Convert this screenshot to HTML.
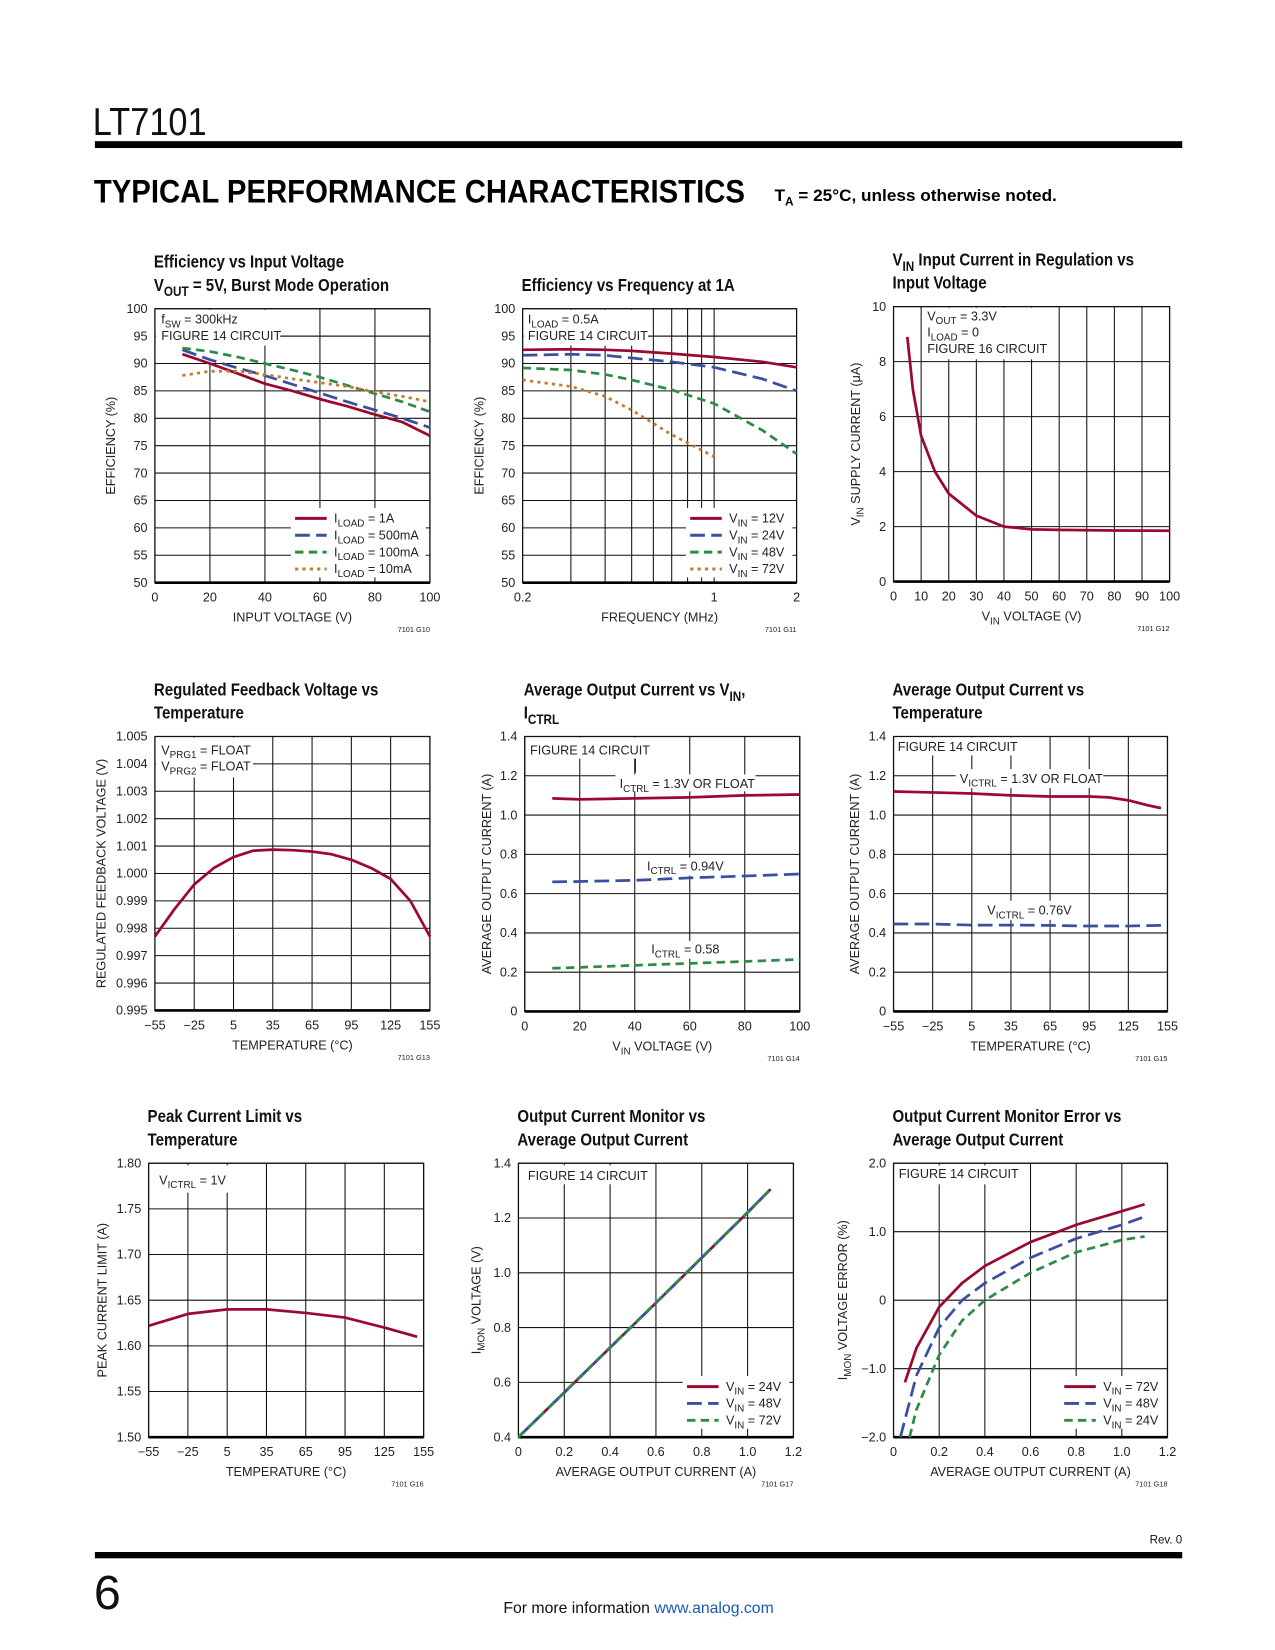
<!DOCTYPE html>
<html><head><meta charset="utf-8">
<style>
html,body{margin:0;padding:0;background:#fff;}
svg{display:block;font-family:"Liberation Sans Narrow","Liberation Sans",sans-serif;}
</style></head>
<body>
<svg id="page" width="1275" height="1650" viewBox="0 0 1210 1566" xmlns="http://www.w3.org/2000/svg">
<rect x="0" y="0" width="1210" height="1566" fill="#fff"/>
<text x="88" y="128" font-size="37" font-family="Liberation Sans, sans-serif" font-weight="300" fill="#111" textLength="108" lengthAdjust="spacingAndGlyphs">LT7101</text>
<rect x="90" y="134" width="1032" height="6.5" fill="#000"/>
<text x="89" y="192" font-size="31" font-weight="bold" font-family="Liberation Sans, sans-serif" fill="#000" textLength="618" lengthAdjust="spacingAndGlyphs">TYPICAL PERFORMANCE CHARACTERISTICS</text>
<text x="735" y="191" font-size="16" font-weight="bold" fill="#000" textLength="268" lengthAdjust="spacingAndGlyphs">T<tspan font-size="11" dy="4">A</tspan><tspan dy="-4"> = 25°C, unless otherwise noted.</tspan></text>
<g id="charts"></g>
<rect x="90" y="1473" width="1032" height="6" fill="#000"/>
<text x="1122" y="1465" font-size="11" text-anchor="end" fill="#111">Rev. 0</text>
<text x="89" y="1527" font-size="46" font-family="Liberation Sans, sans-serif" font-weight="300" fill="#111">6</text>
<text x="606" y="1531" font-size="15" text-anchor="middle" fill="#111">For more information <tspan fill="#1a5bb5">www.analog.com</tspan></text>
</svg>
<script>
const NS='http://www.w3.org/2000/svg';
const RED='#9b0a2e',BLUE='#3a4fa0',GREEN='#2e8b47',ORANGE='#c8782e';

// ---------- DATA ----------
const c1X=[10,20,30,40,50,60,70,80,90,100];
const c1_1A=[91.7,90,88.2,86.3,85,83.5,82.2,80.7,79.3,76.8];
const c1_500mA=[92.5,90.7,89.2,87.8,86.2,84.6,83,81.5,80,78.3];
const c1_100mA=[92.8,92.2,91.2,90,88.8,87.5,86,84.5,83,81.2];
const c1_10mA=[87.8,88.6,88.6,88,87.2,86.5,85.8,84.8,84,83];
const c1XTicks=[0,20,40,60,80,100];
const c1YTicks=[50,55,60,65,70,75,80,85,90,95,100];

const c2X=[0.2,0.3,0.4,0.5,0.7,1,1.5,2];
const c2_12V=[92.5,92.6,92.5,92.3,91.8,91.2,90.3,89.3];
const c2_24V=[91.5,91.7,91.5,91,90.3,89.3,87.2,85];
const c2_48V=[89.2,88.8,88,87,85.2,82.7,77.8,73.5];
const c2X72=[0.2,0.3,0.4,0.5,0.7,1];
const c2_72V=[87,85.8,84,81.5,77,73];
const c2XTicks=[0.2,1,2];
const c2XGrid=[0.3,0.4,0.5,0.6,0.7,0.8,0.9,1];

const c3X=[5,7,10,15,20,30,40,50,60,80,100];
const c3Y=[8.9,7,5.3,4,3.2,2.4,2.0,1.9,1.88,1.86,1.85];
const c3XTicks=[0,10,20,30,40,50,60,70,80,90,100];
const c3YTicks=[0,2,4,6,8,10];

const tempTicks=[-55,-25,5,35,65,95,125,155];
const c4X=[-55,-40,-25,-10,5,20,35,50,65,80,95,110,125,140,155];
const c4Y=[0.9977,0.9987,0.9996,1.0002,1.0006,1.00083,1.00087,1.00085,1.0008,1.0007,1.0005,1.0002,0.9998,0.999,0.9977];
const c4YTicks=[0.995,0.996,0.997,0.998,0.999,1.000,1.001,1.002,1.003,1.004,1.005];

const c5X=[10,20,40,60,80,100];
const c5_1p3=[1.085,1.08,1.085,1.09,1.1,1.105];
const c5_0p94=[0.66,0.662,0.668,0.68,0.69,0.70];
const c5_0p58=[0.22,0.225,0.235,0.245,0.255,0.265];
const c5XTicks=[0,20,40,60,80,100];
const ampTicks=[0,0.2,0.4,0.6,0.8,1.0,1.2,1.4];

const c6X=[-55,-25,5,35,65,95,110,125,140,150];
const c6_1p3=[1.12,1.115,1.11,1.1,1.095,1.095,1.09,1.075,1.05,1.035];
const c6_0p76=[0.445,0.445,0.44,0.44,0.438,0.435,0.435,0.435,0.437,0.438];

const c7X=[-55,-25,5,35,65,95,125,150];
const c7Y=[1.622,1.635,1.64,1.64,1.636,1.631,1.62,1.61];
const c7YTicks=[1.50,1.55,1.60,1.65,1.70,1.75,1.80];

const c8X=[0,0.2,0.4,0.6,0.8,1.0,1.1];
const c8_24V=[0.4,0.563,0.727,0.89,1.055,1.22,1.305];
const c8_48V=[0.4,0.563,0.727,0.89,1.055,1.22,1.305];
const c8_72V=[0.4,0.564,0.728,0.891,1.056,1.221,1.306];
const c8XTicks=[0,0.2,0.4,0.6,0.8,1.0,1.2];
const c8YTicks=[0.4,0.6,0.8,1.0,1.2,1.4];

const c9X72=[0.05,0.1,0.2,0.3,0.4,0.6,0.8,1.0,1.1];
const c9_72V=[-1.2,-0.7,-0.1,0.25,0.5,0.85,1.1,1.3,1.4];
const c9X48=[0.03,0.1,0.2,0.3,0.4,0.6,0.8,1.0,1.1];
const c9_48V=[-2,-1.1,-0.4,0,0.25,0.62,0.9,1.1,1.22];
const c9X24=[0.07,0.1,0.2,0.3,0.4,0.6,0.8,1.0,1.1];
const c9_24V=[-2,-1.6,-0.8,-0.3,0,0.4,0.7,0.88,0.93];
const c9YTicks=[-2,-1,0,1,2];
const c9YLabels=['−2.0','−1.0','0','1.0','2.0'];

// ---------- HELPERS ----------
const root=document.getElementById('charts');
function mk(tag,attrs,parent,name){
  const e=document.createElementNS(NS,tag);
  for(const k in attrs) e.setAttribute(k,attrs[k]);
  
  
  parent.appendChild(e);return e;
}
function txt(str,x,y,opts,parent,name){
  const a=Object.assign({x:x,y:y,'font-size':12,fill:'#222'},opts||{});
  const t=mk('text',a,parent,name);
  const fs=+a['font-size'];
  const parts=str.split(/(_\{[^}]*\})/);
  let sub=false;
  parts.forEach(p=>{
    if(!p) return;
    const s=document.createElementNS(NS,'tspan');
    if(p.startsWith('_{')){s.textContent=p.slice(2,-1);s.setAttribute('font-size',fs*0.78);s.setAttribute('dy',fs*0.3);sub=true;}
    else{s.textContent=p;if(sub){s.setAttribute('dy',-fs*0.3);sub=false;}}
    t.appendChild(s);
  });
  return t;
}
function fmt(v,d){return v.toFixed(d);}

function chart(c){
  const g=mk('g',{},root,c.id);
  const L=c.px[0],R=c.px[1],T=c.py[0],B=c.py[1];
  const sx=c.log?(v=>L+(Math.log10(v)-Math.log10(c.xd[0]))/(Math.log10(c.xd[1])-Math.log10(c.xd[0]))*(R-L)):(v=>L+(v-c.xd[0])/(c.xd[1]-c.xd[0])*(R-L));
  const sy=v=>B-(v-c.yd[0])/(c.yd[1]-c.yd[0])*(B-T);
  // title
  c.title.forEach((ln,i)=>{
    const ty=T-17-(c.title.length-1-i)*22;
    txt(ln,0,0,{'font-size':17,'font-weight':'bold',fill:'#111',transform:'translate('+(L-1)+','+ty+') scale(0.84,1)'},g,'chart-title');
  });
  // grid
  (c.xgrid||c.xticks).forEach(v=>{const x=sx(v);mk('line',{x1:x,x2:x,y1:T,y2:B,stroke:'#111','stroke-width':1},g,'x-gridline');});
  c.yticks.forEach(v=>{const y=sy(v);mk('line',{x1:L,x2:R,y1:y,y2:y,stroke:'#111','stroke-width':1},g,'y-gridline');});
  mk('rect',{x:L,y:T,width:R-L,height:B-T,fill:'none',stroke:'#111','stroke-width':1.2},g,'plot-frame');
  mk('line',{x1:L,x2:R,y1:B,y2:B,stroke:'#000','stroke-width':2.5},g,'x-axis-line');
  // tick labels
  c.xticks.forEach((v,i)=>{txt(c.xlabels?c.xlabels[i]:String(v),sx(v),B+18,{'text-anchor':'middle'},g,'x-tick-label');});
  c.yticks.forEach((v,i)=>{txt(c.ylabels?c.ylabels[i]:fmt(v,c.yd),L-7,sy(v)+4,{'text-anchor':'end'},g,'y-tick-label');});
  txt(c.xtitle,(L+R)/2,B+37,{'text-anchor':'middle'},g,'x-axis-title');
  txt(c.ytitle,0,0,{'text-anchor':'middle',transform:'translate('+c.ytx+','+((T+B)/2)+') rotate(-90)'},g,'y-axis-title');
  txt(c.code,R,B+47,{'text-anchor':'end','font-size':7},g,'figure-code');
  // annotations
  (c.ann||[]).forEach(a=>{
    if(a.bg) mk('rect',{x:a.bg[0],y:a.bg[1],width:a.bg[2],height:a.bg[3],fill:'#fff'},g,'annotation-background');
    if(a.lead) mk('line',{x1:a.lead[0],y1:a.lead[1],x2:a.lead[2],y2:a.lead[3],stroke:'#111','stroke-width':1},g,'annotation-leader');
    a.lines.forEach((s,i)=>txt(s,a.x,a.y+i*15.5,{},g,'annotation-text'));
  });
  // series
  c.series.forEach(s=>{
    let d='';s.xs.forEach((x,i)=>{d+=(i?'L':'M')+sx(x).toFixed(1)+','+sy(s.ys[i]).toFixed(1);});
    const p=mk('path',{d:d,fill:'none',stroke:s.color,'stroke-width':2.6,'stroke-dasharray':s.dash||'none','stroke-linejoin':'round'},g,'series-line');
    
  });
  // legend
  if(c.leg){
    const lg=mk('g',{},g,'legend');
    mk('rect',{x:c.leg.x-4,y:c.leg.y-10,width:c.leg.w,height:c.series.length*16+2,fill:'#fff'},lg,'legend-background');
    c.series.forEach((s,i)=>{
      const y=c.leg.y+i*16;
      mk('line',{x1:c.leg.x,x2:c.leg.x+30,y1:y,y2:y,stroke:s.color,'stroke-width':2.8,'stroke-dasharray':s.dash||'none'},lg,'legend-swatch');
      txt(s.label,c.leg.x+37,y+4,{},lg,'legend-entry');
    });
  }
}

const D1='14 6',D2='8 5',D3='3 4';
chart({id:'chart-efficiency-vs-vin',px:[147,408],py:[293,553],xd:[0,100],yd:[50,100],xticks:c1XTicks,yticks:c1YTicks,ylabels:c1YTicks.map(String),
 title:['Efficiency vs Input Voltage','V_{OUT} = 5V, Burst Mode Operation'],xtitle:'INPUT VOLTAGE (V)',ytitle:'EFFICIENCY (%)',ytx:109,code:'7101 G10',
 ann:[{bg:[148,294,118,34],x:153,y:307,lines:['f_{SW} = 300kHz','FIGURE 14 CIRCUIT'],lead:[266,319,408,319]},{bg:[190,328,20,16],x:0,y:0,lines:[]}],
 leg:{x:280,y:492,w:128},
 series:[{xs:c1X,ys:c1_1A,color:RED,name:'series-iload-1a',label:'I_{LOAD} = 1A'},
  {xs:c1X,ys:c1_500mA,color:BLUE,dash:D1,name:'series-iload-500ma',label:'I_{LOAD} = 500mA'},
  {xs:c1X,ys:c1_100mA,color:GREEN,dash:D2,name:'series-iload-100ma',label:'I_{LOAD} = 100mA'},
  {xs:c1X,ys:c1_10mA,color:ORANGE,dash:D3,name:'series-iload-10ma',label:'I_{LOAD} = 10mA'}]});

chart({id:'chart-efficiency-vs-frequency',px:[496,756],py:[293,553],xd:[0.2,2],yd:[50,100],log:true,xticks:c2XTicks,xgrid:c2XGrid,yticks:c1YTicks,ylabels:c1YTicks.map(String),
 title:['Efficiency vs Frequency at 1A'],xtitle:'FREQUENCY (MHz)',ytitle:'EFFICIENCY (%)',ytx:459,code:'7101 G11',
 ann:[{bg:[497,294,118,34],x:501,y:307,lines:['I_{LOAD} = 0.5A','FIGURE 14 CIRCUIT'],lead:[615,319,756,319]}],
 leg:{x:655,y:492,w:101},
 series:[{xs:c2X,ys:c2_12V,color:RED,name:'series-vin-12v',label:'V_{IN} = 12V'},
  {xs:c2X,ys:c2_24V,color:BLUE,dash:D1,name:'series-vin-24v',label:'V_{IN} = 24V'},
  {xs:c2X,ys:c2_48V,color:GREEN,dash:D2,name:'series-vin-48v',label:'V_{IN} = 48V'},
  {xs:c2X72,ys:c2_72V,color:ORANGE,dash:D3,name:'series-vin-72v',label:'V_{IN} = 72V'}]});

chart({id:'chart-vin-supply-current',px:[848,1110],py:[291,552],xd:[0,100],yd:[0,10],xticks:c3XTicks,yticks:c3YTicks,ylabels:c3YTicks.map(String),
 title:['V_{IN} Input Current in Regulation vs','Input Voltage'],xtitle:'V_{IN} VOLTAGE (V)',ytitle:'V_{IN} SUPPLY CURRENT (μA)',ytx:816,code:'7101 G12',
 ann:[{bg:[875,292,118,49],x:880,y:304,lines:['V_{OUT} = 3.3V','I_{LOAD} = 0','FIGURE 16 CIRCUIT']}],
 series:[{xs:c3X,ys:c3Y,color:RED,name:'series-supply-current'}]});

chart({id:'chart-feedback-voltage-vs-temp',px:[147,408],py:[699,959],xd:[-55,155],yd:[0.995,1.005],xticks:tempTicks,xlabels:tempTicks.map(v=>v<0?'−'+(-v):String(v)),yticks:c4YTicks,ylabels:c4YTicks.map(v=>v.toFixed(3)),
 title:['Regulated Feedback Voltage vs','Temperature'],xtitle:'TEMPERATURE (°C)',ytitle:'REGULATED FEEDBACK VOLTAGE (V)',ytx:100,code:'7101 G13',
 ann:[{bg:[148,700,92,38],x:153,y:716,lines:['V_{PRG1} = FLOAT','V_{PRG2} = FLOAT']}],
 series:[{xs:c4X,ys:c4Y,color:RED,name:'series-feedback-voltage'}]});

chart({id:'chart-output-current-vs-vin',px:[498,759],py:[699,960],xd:[0,100],yd:[0,1.4],xticks:c5XTicks,yticks:ampTicks,ylabels:ampTicks.map(v=>v===0?'0':v.toFixed(1)),
 title:['Average Output Current vs V_{IN},','I_{CTRL}'],xtitle:'V_{IN} VOLTAGE (V)',ytitle:'AVERAGE OUTPUT CURRENT (A)',ytx:466,code:'7101 G14',
 ann:[{bg:[499,700,120,20],x:503,y:716,lines:['FIGURE 14 CIRCUIT']},
  {bg:[584,735,133,16],x:588,y:748,lines:['I_{CTRL} = 1.3V OR FLOAT'],lead:[603,720,603,733]},
  {bg:[611,814,80,17],x:614,y:826,lines:['I_{CTRL} = 0.94V']},
  {bg:[614,893,75,17],x:618,y:905,lines:['I_{CTRL} = 0.58']}],
 series:[{xs:c5X,ys:c5_1p3,color:RED,name:'series-ictrl-1p3v'},
  {xs:c5X,ys:c5_0p94,color:BLUE,dash:D1,name:'series-ictrl-0p94v'},
  {xs:c5X,ys:c5_0p58,color:GREEN,dash:D2,name:'series-ictrl-0p58v'}]});

chart({id:'chart-output-current-vs-temp',px:[848,1108],py:[699,960],xd:[-55,155],yd:[0,1.4],xticks:tempTicks,xlabels:tempTicks.map(v=>v<0?'−'+(-v):String(v)),yticks:ampTicks,ylabels:ampTicks.map(v=>v===0?'0':v.toFixed(1)),
 title:['Average Output Current vs','Temperature'],xtitle:'TEMPERATURE (°C)',ytitle:'AVERAGE OUTPUT CURRENT (A)',ytx:815,code:'7101 G15',
 ann:[{bg:[849,700,118,17],x:852,y:713,lines:['FIGURE 14 CIRCUIT']},
  {bg:[907,730,140,18],x:911,y:743,lines:['V_{ICTRL} = 1.3V OR FLOAT']},
  {bg:[933,855,92,18],x:937,y:868,lines:['V_{ICTRL} = 0.76V']}],
 series:[{xs:c6X,ys:c6_1p3,color:RED,name:'series-victrl-1p3v'},
  {xs:c6X,ys:c6_0p76,color:BLUE,dash:D1,name:'series-victrl-0p76v'}]});

chart({id:'chart-peak-current-limit',px:[141,402],py:[1104,1364],xd:[-55,155],yd:[1.5,1.8],xticks:tempTicks,xlabels:tempTicks.map(v=>v<0?'−'+(-v):String(v)),yticks:c7YTicks,ylabels:c7YTicks.map(v=>v.toFixed(2)),
 title:['Peak Current Limit vs','Temperature'],xtitle:'TEMPERATURE (°C)',ytitle:'PEAK CURRENT LIMIT (A)',ytx:101,code:'7101 G16',
 ann:[{bg:[143,1106,80,26],x:151,y:1124,lines:['V_{ICTRL} = 1V']}],
 series:[{xs:c7X,ys:c7Y,color:RED,name:'series-peak-current'}]});

chart({id:'chart-current-monitor',px:[492,753],py:[1104,1364],xd:[0,1.2],yd:[0.4,1.4],xticks:c8XTicks,xlabels:c8XTicks.map(v=>v===0?'0':v.toFixed(1)),yticks:c8YTicks,ylabels:c8YTicks.map(v=>v.toFixed(1)),
 title:['Output Current Monitor vs','Average Output Current'],xtitle:'AVERAGE OUTPUT CURRENT (A)',ytitle:'I_{MON} VOLTAGE (V)',ytx:456,code:'7101 G17',
 ann:[{bg:[495,1106,118,18],x:501,y:1120,lines:['FIGURE 14 CIRCUIT']}],
 leg:{x:652,y:1316,w:101},
 series:[{xs:c8X,ys:c8_24V,color:RED,name:'series-imon-vin-24v',label:'V_{IN} = 24V'},
  {xs:c8X,ys:c8_48V,color:BLUE,dash:D1,name:'series-imon-vin-48v',label:'V_{IN} = 48V'},
  {xs:c8X,ys:c8_72V,color:GREEN,dash:D2,name:'series-imon-vin-72v',label:'V_{IN} = 72V'}]});

chart({id:'chart-current-monitor-error',px:[848,1108],py:[1104,1364],xd:[0,1.2],yd:[-2,2],xticks:c8XTicks,xlabels:c8XTicks.map(v=>v===0?'0':v.toFixed(1)),yticks:c9YTicks,ylabels:c9YLabels,
 title:['Output Current Monitor Error vs','Average Output Current'],xtitle:'AVERAGE OUTPUT CURRENT (A)',ytitle:'I_{MON} VOLTAGE ERROR (%)',ytx:804,code:'7101 G18',
 ann:[{bg:[850,1106,118,18],x:853,y:1118,lines:['FIGURE 14 CIRCUIT']}],
 leg:{x:1010,y:1316,w:98},
 series:[{xs:c9X72,ys:c9_72V,color:RED,name:'series-error-vin-72v',label:'V_{IN} = 72V'},
  {xs:c9X48,ys:c9_48V,color:BLUE,dash:D1,name:'series-error-vin-48v',label:'V_{IN} = 48V'},
  {xs:c9X24,ys:c9_24V,color:GREEN,dash:D2,name:'series-error-vin-24v',label:'V_{IN} = 24V'}]});
</script>
</body></html>
